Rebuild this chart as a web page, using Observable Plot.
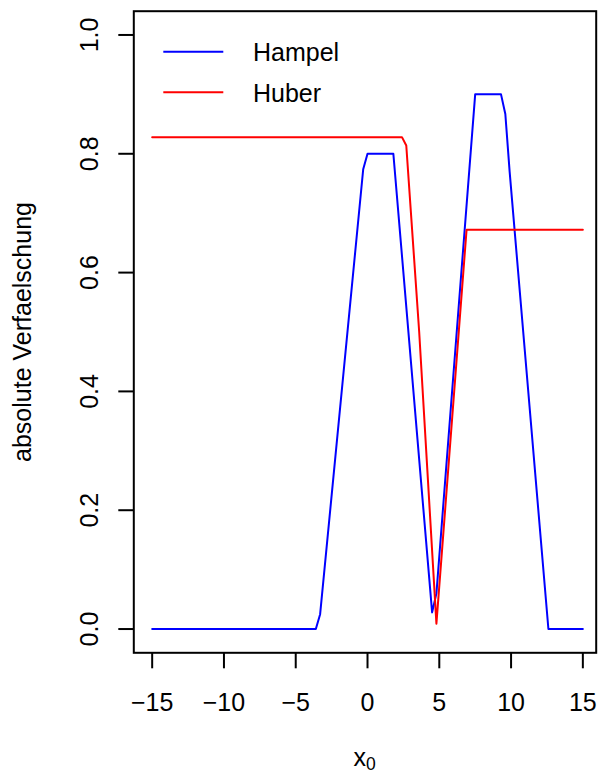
<!DOCTYPE html>
<html>
<head>
<meta charset="utf-8">
<script src="https://cdn.jsdelivr.net/npm/d3@7"></script>
<script src="https://cdn.jsdelivr.net/npm/@observablehq/plot@0.6"></script>
<style>
  html, body { margin: 0; padding: 0; background: #fff; }
  #chart svg { display: block; }
</style>
</head>
<body>
<div id="chart"></div>
<script>
// ---- data ----
const seriesNames = ["Hampel", "Huber"];
const seriesColors = ["#0000ff", "#ff0000"];

const hampelX = [-15, -3.6, -3.3, -0.3, 0, 1.8, 4.5, 4.8, 7.5, 9.3, 9.6, 9.9, 12.6, 15];
const hampelY = [0, 0, 0.025, 0.774, 0.8, 0.8, 0.028, 0.06, 0.9, 0.9, 0.867, 0.77, 0, 0];

const huberX = [-15, 2.4, 2.7, 3.6, 4.8, 6.9, 15];
const huberY = [0.828, 0.828, 0.814, 0.50, 0.009, 0.672, 0.672];

const xTicks = [-15, -10, -5, 0, 5, 10, 15];
const yTicks = [0, 0.2, 0.4, 0.6, 0.8, 1.0];

const yLabel = "absolute Verfaelschung";
const xLabelMain = "x";
const xLabelSub = "0";

// ---- tables built from the arrays ----
const hampel = hampelX.map((x, i) => ({x, y: hampelY[i]}));
const huber = huberX.map((x, i) => ({x, y: huberY[i]}));

const W = 601, H = 774;
const mLeft = 133.3, mRight = 5.3, mTop = 10.7, mBottom = 121.7;
const font = "'Liberation Sans', Arial, Helvetica, sans-serif";

const chart = Plot.plot({
  width: W,
  height: H,
  marginLeft: mLeft,
  marginRight: mRight,
  marginTop: mTop,
  marginBottom: mBottom,
  style: {fontFamily: font, fontSize: "25px", background: "#fff", color: "#000"},
  x: {domain: [-16.28, 15.93]},
  y: {domain: [-0.04, 1.04]},
  marks: [
    Plot.line(hampel, {x: "x", y: "y", stroke: seriesColors[0], strokeWidth: 2}),
    Plot.line(huber, {x: "x", y: "y", stroke: seriesColors[1], strokeWidth: 2}),
    Plot.frame({stroke: "#000", strokeWidth: 2}),
    Plot.axisX({ticks: xTicks, tickSize: 16, tickPadding: 24, strokeWidth: 2, label: null, fill: "#000"}),
    Plot.axisY({ticks: yTicks, tickSize: 15, tickFormat: () => "", strokeWidth: 2, label: null}),
    Plot.text(yTicks, {y: d => d, text: d => d.toFixed(1), frameAnchor: "left", dx: -36,
      rotate: -90, lineAnchor: "bottom", textAnchor: "middle", fontSize: 25, fill: "#000"}),
    Plot.text([yLabel], {text: d => d, frameAnchor: "left", dx: -103,
      rotate: -90, lineAnchor: "bottom", textAnchor: "middle", fontSize: 25, fill: "#000"})
  ]
});

document.getElementById("chart").appendChild(chart);

// ---- x axis label with subscript, and the legend ----
const svg = d3.select(chart);
const xl = svg.append("text")
  .attr("x", (mLeft + (W - mRight)) / 2)
  .attr("y", 766)
  .attr("text-anchor", "middle")
  .attr("font-family", font)
  .attr("font-size", 25)
  .attr("fill", "#000");
xl.append("tspan").text(xLabelMain);
xl.append("tspan").attr("font-size", 17.5).attr("dy", 4).text(xLabelSub);

const leg = svg.append("g")
  .attr("font-family", font)
  .attr("font-size", 25)
  .attr("text-anchor", "start");
seriesNames.forEach((name, i) => {
  const cy = 51.7 + i * 40.6;
  leg.append("line")
    .attr("x1", 163.3).attr("x2", 223.3)
    .attr("y1", cy).attr("y2", cy)
    .attr("stroke", seriesColors[i]).attr("stroke-width", 2);
  leg.append("text")
    .attr("x", 253).attr("y", cy + 9.5)
    .attr("text-anchor", "start")
    .attr("fill", "#000")
    .text(name);
});
</script>
</body>
</html>
